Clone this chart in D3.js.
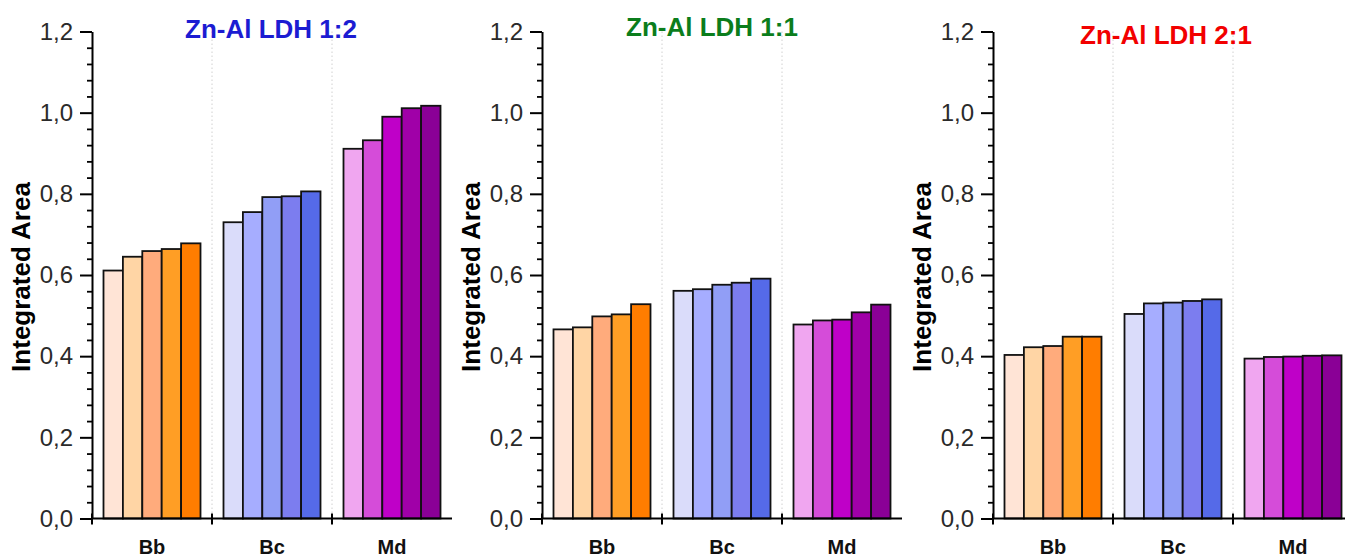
<!DOCTYPE html>
<html>
<head>
<meta charset="utf-8">
<script src="https://cdn.jsdelivr.net/npm/d3@7"></script>
<style>
  body { margin: 0; background: #fff; }
  text { font-family: "Liberation Sans", Arial, sans-serif; }
</style>
</head>
<body>
<div id="chart"></div>
<script>
// groups on the x axis
const categories = ["Bb", "Bc", "Md"];
const titles = ["Zn-Al LDH 1:2", "Zn-Al LDH 1:1", "Zn-Al LDH 2:1"];
const titleColors = ["#1c1cd2", "#0b7d1c", "#f20000"];

// integrated area, one row per group (Bb, Bc, Md), 5 bars each
const ldh12 = [
    [0.611, 0.645, 0.659, 0.664, 0.678],
    [0.730, 0.755, 0.792, 0.794, 0.806],
    [0.911, 0.932, 0.990, 1.011, 1.017]
];
const ldh11 = [
    [0.466, 0.471, 0.498, 0.503, 0.528],
    [0.561, 0.565, 0.576, 0.581, 0.591],
    [0.478, 0.488, 0.490, 0.508, 0.527]
];
const ldh21 = [
    [0.403, 0.422, 0.425, 0.448, 0.448],
    [0.504, 0.530, 0.532, 0.536, 0.540],
    [0.394, 0.398, 0.399, 0.401, 0.402]
];

// bar fills per group
const bbColors = ["#ffe4d6", "#ffd5a5", "#ffab7c", "#ff9e25", "#ff7d00"];
const bcColors = ["#dadcfa", "#a6adff", "#919ef6", "#7c7def", "#556ae8"];
const mdColors = ["#f0a6f0", "#d54cd9", "#bf00c8", "#a000a8", "#8a0096"];

const yTicks = [0, 0.2, 0.4, 0.6, 0.8, 1.0, 1.2];

const panels = [ldh12, ldh11, ldh21];
const groupColors = [bbColors, bcColors, mdColors];

// layout
const axisX = [92, 542, 993];
const titleX = [271, 712, 1166];
const titleY = [38, 36, 44];
const plotTop = 31.5, plotBottom = 518.5, plotW = 360;

const svg = d3.select("#chart")
    .append("svg")
    .attr("width", 1345)
    .attr("height", 557);

const y = d3.scaleLinear().domain([0, 1.2]).range([plotBottom, plotTop]);
const x0 = d3.scaleBand().domain(categories).range([0, plotW]);
const x1 = d3.scaleBand().domain(d3.range(5)).range([11.5, x0.bandwidth() - 11.5]);
const fmt = d => d3.format(".1f")(d).replace(".", ",");
const minorTicks = d3.range(0, 1.2001, 0.04).filter(v => Math.abs(v * 5 - Math.round(v * 5)) > 1e-6);

panels.forEach((data, i) => {
    const g = svg.append("g").attr("transform", `translate(${axisX[i]},0)`);

    // dotted separators between groups
    g.selectAll("line.sep")
        .data(categories.slice(1))
        .join("line")
        .attr("class", "sep")
        .attr("x1", d => x0(d)).attr("x2", d => x0(d))
        .attr("y1", y(1.2)).attr("y2", y(0))
        .attr("stroke", "#d0d0d0")
        .attr("stroke-width", 1)
        .attr("stroke-dasharray", "1.5,2.5");

    // bars
    categories.forEach((c, j) => {
        g.append("g")
            .selectAll("rect")
            .data(data[j])
            .join("rect")
            .attr("x", (d, k) => x0(c) + x1(k))
            .attr("y", d => y(d))
            .attr("width", x1.bandwidth())
            .attr("height", d => y(0) - y(d))
            .attr("fill", (d, k) => groupColors[j][k])
            .attr("stroke", "#111")
            .attr("stroke-width", 1.8);
    });

    // minor ticks
    g.append("g")
        .call(d3.axisLeft(y).tickValues(minorTicks).tickSize(5).tickFormat(""))
        .call(a => a.select(".domain").remove())
        .selectAll("line").attr("stroke", "#000").attr("stroke-width", 1.8);

    // y axis
    g.append("g")
        .call(d3.axisLeft(y).tickValues(yTicks).tickSize(12).tickSizeOuter(0).tickPadding(7).tickFormat(fmt))
        .call(a => a.select(".domain").attr("stroke", "#000").attr("stroke-width", 2))
        .call(a => a.selectAll("line").attr("stroke", "#000").attr("stroke-width", 2))
        .call(a => a.selectAll("text")
            .style("font-size", "24px")
            .attr("fill", "#2a2a2a"));

    // x axis line and group ticks
    g.append("line")
        .attr("x1", 0).attr("x2", plotW)
        .attr("y1", y(0)).attr("y2", y(0))
        .attr("stroke", "#000").attr("stroke-width", 2);
    g.selectAll("line.xt")
        .data(categories)
        .join("line")
        .attr("class", "xt")
        .attr("x1", d => x0(d)).attr("x2", d => x0(d))
        .attr("y1", y(0) - 5).attr("y2", y(0) + 6)
        .attr("stroke", "#000").attr("stroke-width", 2);

    // group labels
    g.selectAll("text.cat")
        .data(categories)
        .join("text")
        .attr("class", "cat")
        .attr("x", d => x0(d) + x0.bandwidth() / 2)
        .attr("y", 554)
        .attr("text-anchor", "middle")
        .style("font-size", "20px")
        .style("font-weight", "bold")
        .attr("fill", "#111")
        .text(d => d);

    // y title
    g.append("text")
        .attr("transform", "translate(-62,277) rotate(-90)")
        .attr("text-anchor", "middle")
        .style("font-size", "26px")
        .style("font-weight", "bold")
        .attr("fill", "#000")
        .text("Integrated Area");

    // panel title
    svg.append("text")
        .attr("x", titleX[i])
        .attr("y", titleY[i])
        .attr("text-anchor", "middle")
        .style("font-size", "26px")
        .style("font-weight", "bold")
        .attr("fill", titleColors[i])
        .text(titles[i]);
});
</script>
</body>
</html>
